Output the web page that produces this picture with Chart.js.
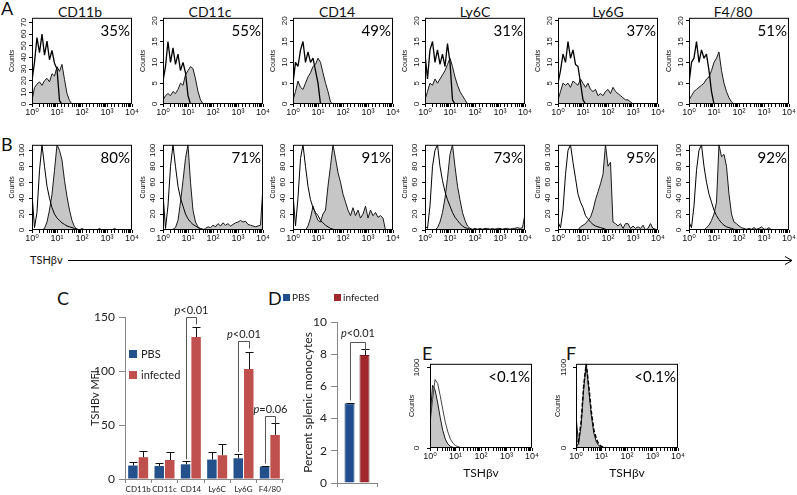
<!DOCTYPE html>
<html>
<head>
<meta charset="utf-8">
<title>TSHβv expression</title>
<script src="https://cdn.jsdelivr.net/npm/chart.js@4.4.1/dist/chart.umd.min.js"></script>
<style>
  body { margin: 0; background: #fff; }
  #fig { position: relative; width: 797px; height: 495px; overflow: hidden; font-family: Lato, "Open Sans", sans-serif; color: #111; }
  #fig canvas, #fig .t { position: absolute; }
  .t { line-height: 1; white-space: nowrap; }
  .letter { font-size: 18px; }
  .title { font-size: 14px; width: 80px; text-align: center; }
</style>
</head>
<body>
<div id="fig">
  <div class="t letter" style="left:1px;top:-1px">A</div>
  <div class="t letter" style="left:1px;top:135px">B</div>
  <div class="t letter" style="left:57px;top:289px">C</div>
  <div class="t letter" style="left:268px;top:289px">D</div>
  <div class="t letter" style="left:422px;top:344px">E</div>
  <div class="t letter" style="left:566px;top:344px">F</div>
  <div class="t" style="left:30px;top:254px;font-size:11px">TSHβv</div>
  <svg style="position:absolute;left:0;top:0" width="797" height="495">
    <path d="M68 260.5 H792 M785 256.5 L792 260.5 L785 264.5" stroke="#000" stroke-width="1" fill="none"/>
  </svg>
</div>
<script>
// histogram channels (log spaced, 10 per decade)
const bins = [1, 1.26, 1.58, 2, 2.51, 3.16, 3.98, 5.01, 6.31, 7.94,
  10, 12.6, 15.8, 20, 25.1, 31.6, 39.8, 50.1, 63.1, 79.4,
  100, 126, 158, 200, 251, 316, 398, 501, 631, 794,
  1000, 1259, 1585, 1995, 2512, 3162, 3981, 5012, 6310, 7943, 10000];
const decadeTicks = [1, 10, 100, 1000, 10000];
const decadeLabels = ['10⁰', '10¹', '10²', '10³', '10⁴'];

const markers = ['CD11b', 'CD11c', 'CD14', 'Ly6C', 'Ly6G', 'F4/80'];
const pctRowA = ['35%', '55%', '49%', '31%', '37%', '51%'];
const pctRowB = ['80%', '71%', '91%', '73%', '95%', '92%'];
const pctEF = ['<0.1%', '<0.1%'];

const yMaxRowA = [74, 20.7, 20.7, 20.7, 20.7, 20.7];
const yTicksA1 = [0, 10, 20, 30, 40, 50, 60, 70];
const yTicksA = [0, 5, 10, 15, 20];
const yMaxRowB = 107;
const yTicksB = [0, 20, 40, 60, 80, 100];
const yTicksE = [0, 1000];
const yTicksF = [0, 1100];

// row A: isotype (open) and stain (grey)
const isoRowA = [
  [20, 36, 57, 44, 60, 42, 54, 38, 46, 35, 30, 3, 0],
  [5.5, 9, 15, 10, 13.5, 9.5, 12, 8, 10, 7.5, 2, 0],
  [5, 10, 9, 13, 15, 10, 12.5, 10, 11, 8, 5, 0],
  [12, 6, 13, 15, 10, 13, 9.5, 12, 9, 14.5, 10, 1, 0],
  [5, 8, 12, 10, 15, 11, 13, 9.5, 9, 5, 1, 0],
  [5, 10, 11, 15, 10, 13, 11, 12, 8, 3, 0]
];
const stainRowA = [
  [3, 14, 17, 19, 16, 20, 22, 19, 26, 24, 32, 28, 34, 21, 9, 3, 0],
  [1, 2, 2.5, 2, 3, 2.5, 3.5, 5, 4.5, 7, 8, 9, 8.5, 6, 3, 1, 0],
  [1, 3, 5.5, 4, 3.5, 5, 6.5, 7.5, 9, 9.5, 11, 10, 7.5, 5, 3, 0.5, 0],
  [1, 3, 5, 4.5, 6, 5, 6, 7, 8, 9.5, 11, 9, 6.5, 4.5, 3, 2, 1, 0],
  [1, 3, 5, 4.5, 5, 4, 5.5, 5, 4.5, 6, 5, 4, 5, 3.5, 3, 3.5, 2, 2.5, 2, 3, 3.5, 2.5, 4, 3, 2.5, 2, 1.5, 1, 1, 0.5, 0],
  [1, 2, 3, 3.5, 4, 4.5, 5, 6, 6.5, 8, 10, 11, 12.5, 8, 5, 3, 1.5, 0.5, 0]
];

// row B
const isoRowB = [
  [45, 3, 22, 75, 107, 80, 55, 40, 28, 20, 15, 12, 9, 7, 5, 4, 3, 2, 1, 0.5, 0],
  [45, 2, 30, 80, 107, 80, 55, 40, 30, 20, 14, 10, 7, 5, 3, 2, 1, 0],
  [45, 5, 40, 90, 107, 80, 55, 38, 28, 22, 18, 12, 9, 6, 4, 2, 1, 0],
  [5, 2, 30, 80, 100, 107, 80, 62, 48, 38, 30, 22, 16, 12, 8, 5, 3, 2, 1, 0],
  [10, 3, 25, 70, 100, 107, 85, 65, 45, 35, 28, 18, 14, 10, 7, 5, 4, 3, 2, 1, 0],
  [10, 3, 30, 75, 100, 107, 80, 60, 45, 35, 25, 18, 13, 9, 6, 4, 3, 2, 1, 0]
];
const stainRowB = [
  [0, 0, 0, 0, 0, 2, 10, 25, 45, 75, 107, 100, 88, 62, 42, 25, 12, 4, 1, 0, 2, 0, 0, 0, 0, 0, 0, 2, 0, 0, 0, 0, 0, 2, 0],
  [0, 0, 0, 0, 1, 3, 12, 35, 62, 90, 107, 60, 25, 10, 4, 1, 0, 2, 4, 3, 6, 4, 8, 5, 9, 6, 8, 5, 7, 9, 10, 12, 10, 11, 7, 6, 5, 4, 5, 6, 55],
  [0, 0, 0, 0, 0, 0, 5, 15, 30, 20, 12, 10, 20, 25, 55, 80, 107, 90, 72, 60, 45, 35, 25, 18, 28, 18, 25, 15, 20, 30, 15, 25, 18, 22, 16, 18, 15, 0],
  [0, 0, 0, 0, 0, 3, 10, 22, 40, 65, 95, 107, 80, 55, 38, 22, 12, 5, 2, 1, 2, 1, 2, 1, 2, 2, 1, 2, 1, 2, 2, 1, 2, 2, 1, 2, 2, 3, 2, 3, 20],
  [0, 0, 0, 0, 0, 0, 0, 0, 0, 4, 6, 8, 12, 16, 25, 38, 48, 58, 70, 107, 80, 85, 10, 8, 5, 8, 2, 8, 8, 2, 5, 2, 4, 2, 6, 0, 2, 8, 2, 1, 0],
  [0, 0, 0, 0, 0, 0, 0, 3, 6, 12, 20, 35, 107, 92, 95, 80, 45, 20, 10, 8, 5, 3, 2, 1, 2, 1, 3, 1, 2, 4, 1, 1, 3, 0]
];

// E and F controls
const ctrlE = [300, 600, 850, 800, 650, 480, 320, 200, 110, 60, 30, 15, 8, 4, 2, 0];
const stainE = [350, 780, 720, 560, 380, 220, 110, 50, 20, 8, 3, 1, 0];
const ctrlF = [0, 100, 350, 850, 1150, 850, 500, 250, 120, 50, 20, 8, 3, 0];
const stainF = [450, 50, 300, 800, 1150, 800, 450, 200, 80, 30, 10, 3, 0];

// C: TSHbv MFI
const cCats = ['CD11b', 'CD11c', 'CD14', 'Ly6C', 'Ly6G', 'F4/80'];
const cPBS = [12.5, 12, 13.6, 18, 19.2, 11.4];
const cPBSErr = [3, 2.5, 2.8, 7.4, 4, 1];
const cInf = [20.2, 17.6, 131.4, 22, 101.8, 40.8];
const cInfErr = [5.3, 7.8, 9, 10, 15.7, 11.5];
const cPLevels = [null, null, 150, null, 128, 58.7];
const cPLabels = ['', '', 'p<0.01', '', 'p<0.01', 'p=0.06'];

// D: percent splenic monocytes
const dPBS = [4.95];
const dPBSErr = [0.05];
const dInf = [7.95];
const dInfErr = [0.35];
const dPLevels = [8.78];
const dPLabels = ['p<0.01'];

const fig = document.getElementById('fig');
const histFont = "'Liberation Sans', 'DejaVu Sans', sans-serif";
const panelLefts = [32, 163, 293, 425, 558, 689];
const titleCenters = [80, 210, 337, 475, 608, 733];

function addCanvas(left, top, w, h) {
  const c = document.createElement('canvas');
  c.width = w;
  c.height = h;
  c.style.left = left + 'px';
  c.style.top = top + 'px';
  fig.appendChild(c);
  return c;
}

markers.forEach((m, i) => {
  const d = document.createElement('div');
  d.className = 't title';
  d.textContent = m;
  d.style.left = (titleCenters[i] - 40) + 'px';
  d.style.top = '5px';
  fig.appendChild(d);
});

// box round the plot + percentage in the corner
const framePlugin = {
  id: 'frame',
  afterDatasetsDraw(chart, args, o) {
    const { ctx, chartArea: a } = chart;
    ctx.save();
    ctx.strokeStyle = '#000';
    ctx.lineWidth = 1;
    ctx.strokeRect(a.left + 0.5, a.top + 0.5, a.right - a.left - 1, a.bottom - a.top - 1);
    if (o.text) {
      ctx.fillStyle = '#000';
      ctx.font = '15px Lato';
      ctx.textAlign = 'right';
      ctx.fillText(o.text, a.right - 2, a.top + 18);
    }
    ctx.restore();
  }
};

const errorBars = {
  id: 'errorBars',
  afterDatasetsDraw(chart, args, o) {
    const { ctx } = chart;
    const y = chart.scales.y;
    ctx.save();
    ctx.strokeStyle = '#111';
    ctx.lineWidth = 1;
    chart.data.datasets.forEach((ds, di) => {
      chart.getDatasetMeta(di).data.forEach((bar, i) => {
        const top = Math.round(y.getPixelForValue(ds.data[i] + ds.errors[i])) + 0.5;
        const x = Math.round(bar.x) + 0.5;
        ctx.beginPath();
        ctx.moveTo(x, bar.y);
        ctx.lineTo(x, top);
        ctx.moveTo(x - o.cap, top);
        ctx.lineTo(x + o.cap, top);
        ctx.stroke();
      });
    });
    ctx.restore();
  }
};

const brackets = {
  id: 'brackets',
  afterDraw(chart, args, o) {
    const { ctx } = chart;
    const y = chart.scales.y;
    const [d0] = chart.data.datasets;
    const m0 = chart.getDatasetMeta(0).data;
    const m1 = chart.getDatasetMeta(1).data;
    ctx.save();
    ctx.strokeStyle = '#555';
    ctx.fillStyle = '#222';
    ctx.lineWidth = 1;
    o.levels.forEach((lv, i) => {
      if (lv == null) return;
      const xl = Math.round(m0[i].x) + 0.5;
      const xr = Math.round(m1[i].x) + 0.5;
      const yb = y.getPixelForValue(d0.data[i] + d0.errors[i]) - 2;
      const yh = Math.round(y.getPixelForValue(lv)) + 0.5;
      ctx.beginPath();
      ctx.moveTo(xl, yb);
      ctx.lineTo(xl, yh);
      ctx.lineTo(xr, yh);
      ctx.lineTo(xr, yh + o.drop);
      ctx.stroke();
      const txt = o.labels[i];
      const head = txt[0], rest = txt.slice(1);
      ctx.font = `italic ${o.font}px Lato`;
      const w1 = ctx.measureText(head).width;
      ctx.font = `${o.font}px Lato`;
      const w2 = ctx.measureText(rest).width;
      const x0 = (xl + xr) / 2 - (w1 + w2) / 2;
      ctx.font = `italic ${o.font}px Lato`;
      ctx.fillText(head, x0, yh - o.lift);
      ctx.font = `${o.font}px Lato`;
      ctx.fillText(rest, x0 + w1, yh - o.lift);
    });
    ctx.restore();
  }
};

const boxLegend = {
  id: 'boxLegend',
  afterDraw(chart, args, o) {
    const { ctx } = chart;
    ctx.save();
    ctx.font = o.font;
    ctx.textBaseline = 'middle';
    chart.data.datasets.forEach((ds, i) => {
      ctx.fillStyle = ds.backgroundColor;
      ctx.fillRect(o.xs[i], o.ys[i], o.size, o.size);
      ctx.fillStyle = '#222';
      ctx.fillText(ds.label, o.xs[i] + o.size + o.gap, o.ys[i] + o.size / 2 + 0.5);
    });
    ctx.restore();
  }
};

function histogram(left, top, w, h, iso, stain, yMax, yTicks, pct, opt = {}) {
  const xh = opt.xTitle ? 36 : 20;
  const cv = addCanvas(left - 32, top - 5, 32 + w + 8, 5 + h + xh);
  const pts = arr => bins.map((b, i) => ({ x: b, y: arr[i] ?? 0 }));
  return new Chart(cv, {
    type: 'line',
    data: {
      datasets: [
        { data: pts(iso), borderColor: opt.isoColor || '#000', borderWidth: opt.isoWidth || 1,
          borderDash: opt.isoDash || [], fill: false, order: 0 },
        { data: pts(stain), borderColor: '#1a1a1a', borderWidth: 1, backgroundColor: '#c6c6c6',
          fill: 'origin', order: 1 }
      ]
    },
    plugins: [framePlugin],
    options: {
      responsive: false,
      animation: false,
      events: [],
      elements: { point: { radius: 0 }, line: { tension: 0, borderJoinStyle: 'bevel' } },
      layout: { padding: { left: 0, top: 5, right: 8, bottom: 0 } },
      plugins: { legend: { display: false }, tooltip: { enabled: false }, frame: { text: pct } },
      scales: {
        x: {
          type: 'logarithmic',
          min: 1,
          max: 10000,
          afterFit: s => { s.height = xh; },
          border: { display: false },
          grid: { drawOnChartArea: false, tickLength: 3, color: '#000' },
          ticks: {
            autoSkip: false, maxRotation: 0, padding: 0, color: '#111',
            font: { size: 9, family: histFont },
            callback: v => {
              const k = decadeTicks.findIndex(d => Math.abs(d - v) < 1e-6 * d);
              return k < 0 ? '' : decadeLabels[k];
            }
          },
          title: opt.xTitle
            ? { display: true, text: opt.xTitle, color: '#111', font: { size: 12, family: 'Lato' }, padding: { top: 0, bottom: 4 } }
            : { display: false }
        },
        y: {
          min: 0,
          max: yMax,
          afterBuildTicks: s => { s.ticks = yTicks.map(v => ({ value: v })); },
          afterFit: s => { s.width = 32; },
          border: { display: false },
          grid: { drawOnChartArea: false, tickLength: 3, color: '#000' },
          ticks: { minRotation: 90, maxRotation: 90, crossAlign: 'center', padding: 1, color: '#111',
            font: { size: 8, family: histFont }, callback: v => String(v) },
          title: { display: true, text: 'Counts', color: '#111', font: { size: 7, family: histFont },
            padding: { top: opt.countsPad || 8, bottom: 0 } }
        }
      }
    }
  });
}

panelLefts.forEach((L, i) => {
  histogram(L, 17, 100, 87, isoRowA[i], stainRowA[i], yMaxRowA[i], i === 0 ? yTicksA1 : yTicksA, pctRowA[i], { isoWidth: 1.3 });
  histogram(L, 144, 100, 86, isoRowB[i], stainRowB[i], yMaxRowB, yTicksB, pctRowB[i]);
});

histogram(430, 363, 102, 85, ctrlE, stainE, 1045, yTicksE, pctEF[0], { xTitle: 'TSHβv', isoColor: '#444', countsPad: 10 });
histogram(576, 363, 102, 85, ctrlF, stainF, 1150, yTicksF, pctEF[1], { xTitle: 'TSHβv', isoDash: [4, 2], isoWidth: 1.5, countsPad: 10 });

// panel C
new Chart(addCanvas(50, 288, 245, 207), {
  type: 'bar',
  data: {
    labels: cCats,
    datasets: [
      { label: 'PBS', data: cPBS, errors: cPBSErr, backgroundColor: '#24508c', categoryPercentage: 0.8, barPercentage: 0.9 },
      { label: 'infected', data: cInf, errors: cInfErr, backgroundColor: '#c0504d', categoryPercentage: 0.8, barPercentage: 0.9 }
    ]
  },
  plugins: [errorBars, brackets, boxLegend],
  options: {
    responsive: false,
    animation: false,
    events: [],
    layout: { padding: { left: 0, top: 29, right: 12, bottom: 0 } },
    plugins: {
      legend: { display: false },
      tooltip: { enabled: false },
      errorBars: { cap: 4 },
      brackets: { levels: cPLevels, labels: cPLabels, drop: 7, lift: 4, font: 11 },
      boxLegend: { xs: [79, 79], ys: [62, 83], size: 8, gap: 4, font: '11px Lato' }
    },
    scales: {
      x: {
        afterFit: s => { s.height = 16; },
        border: { color: '#888' },
        grid: { drawOnChartArea: false, tickLength: 4, color: '#888' },
        ticks: { autoSkip: false, maxRotation: 0, padding: 2, color: '#222', font: { size: 8, family: 'Lato' } }
      },
      y: {
        min: 0,
        max: 150,
        afterFit: s => { s.width = 75; },
        border: { color: '#888' },
        grid: { drawOnChartArea: false, tickLength: 6, color: '#888' },
        ticks: { stepSize: 50, padding: 4, color: '#222', font: { size: 12, family: 'Lato' } },
        title: { display: true, text: 'TSHBv MFI', color: '#222', font: { size: 11, family: 'Lato' }, padding: { top: 39, bottom: 0 } }
      }
    }
  }
});

// panel D
new Chart(addCanvas(262, 288, 125, 207), {
  type: 'bar',
  data: {
    labels: [''],
    datasets: [
      { label: 'PBS', data: dPBS, errors: dPBSErr, backgroundColor: '#1f4d8f', borderColor: '#163a6b', borderWidth: 1,
        categoryPercentage: 0.75, barPercentage: 0.667 },
      { label: 'infected', data: dInf, errors: dInfErr, backgroundColor: '#a0282d', borderColor: '#6e1a1e', borderWidth: 1,
        categoryPercentage: 0.75, barPercentage: 0.667 }
    ]
  },
  plugins: [errorBars, brackets, boxLegend],
  options: {
    responsive: false,
    animation: false,
    events: [],
    layout: { padding: { left: 0, top: 34, right: 10, bottom: 0 } },
    plugins: {
      legend: { display: false },
      tooltip: { enabled: false },
      errorBars: { cap: 4 },
      brackets: { levels: dPLevels, labels: dPLabels, drop: 8, lift: 6, font: 11 },
      boxLegend: { xs: [21, 72], ys: [6, 6], size: 7, gap: 2, font: '10px Lato' }
    },
    scales: {
      x: {
        afterFit: s => { s.height = 12; },
        border: { color: '#888' },
        grid: { drawOnChartArea: false, tickLength: 4, color: '#888' },
        ticks: { display: false }
      },
      y: {
        min: 0,
        max: 10,
        afterFit: s => { s.width = 75; },
        border: { color: '#888' },
        grid: { drawOnChartArea: false, tickLength: 6, color: '#888' },
        ticks: { stepSize: 2, padding: 4, color: '#222', font: { size: 12, family: 'Lato' } },
        title: { display: true, text: 'Percent splenic monocytes', color: '#222', font: { size: 12, family: 'Lato' }, padding: { top: 39, bottom: 0 } }
      }
    }
  }
});
</script>
</body>
</html>
